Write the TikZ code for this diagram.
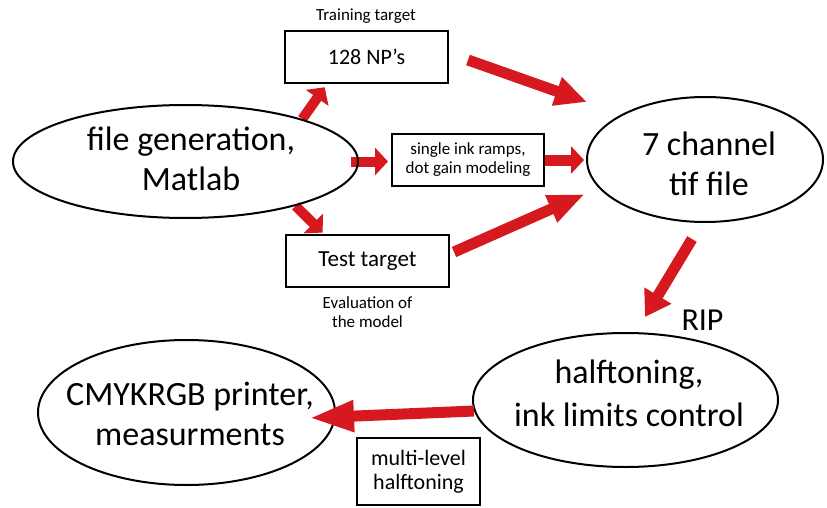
\documentclass[tikz,border=0pt]{standalone}
\usepackage{fontspec}
\setmainfont{Carlito}
\usetikzlibrary{shapes.geometric,arrows.meta,calc}
\pgfdeclarelayer{background}
\pgfsetlayers{background,main}
\definecolor{flowred}{RGB}{213,25,30}
\begin{document}
\begin{tikzpicture}[x=1pt,y=-1pt,
  oval/.style={draw=black,line width=2pt,ellipse,inner sep=0pt},
  box/.style={draw=black,line width=2pt,rectangle,inner sep=0pt,align=center},
  txt/.style={align=center,inner sep=0pt,anchor=base},
  bigtxt/.style={txt,font=\fontsize{34}{40}\selectfont},
  flow/.style={draw=flowred,line width=11pt},
  flowsmall/.style={draw=flowred,line width=10pt,-{Triangle[length=13pt,width=27pt]}},
]
\useasboundingbox (0,0) rectangle (827,508);

% process ellipses
\node[oval,minimum width=345pt,minimum height=113pt] (gen) at (185.5,161.5) {};
\node[oval,minimum width=236pt,minimum height=125pt] (tif) at (705,159.5) {};
\node[oval,minimum width=305pt,minimum height=134pt] (rip) at (625.5,400) {};
\node[oval,minimum width=297pt,minimum height=145pt] (prn) at (186.5,412.5) {};

% ellipse captions, placed by the baseline of their last line
\node[bigtxt] (gentxt) at (191,190) {file generation,\\Matlab};
\node[bigtxt] (tiftxt) at (709,195) {7 channel\\tif file};
\node[bigtxt,font=\fontsize{34}{43}\selectfont] (riptxt) at (629,426) {halftoning,\\ink limits control};
\node[bigtxt] (prntxt) at (190,445) {CMYKRGB printer,\\measurments};
\node[txt,font=\fontsize{32}{36}\selectfont] (riplabel) at (702.5,330) {RIP};

% target boxes
\node[box,minimum width=163pt,minimum height=52pt,font=\fontsize{22}{26}\selectfont] (np) at (366.5,57) {128 NP’s};
\node[box,minimum width=152pt,minimum height=52pt,font=\fontsize{17}{19}\selectfont] (ramp) at (468,160) {single ink ramps,\\dot gain modeling};
\node[box,minimum width=163pt,minimum height=52pt,font=\fontsize{23}{27}\selectfont] (test) at (367.5,261) {Test target};
\node[box,minimum width=123pt,minimum height=67pt,font=\fontsize{22}{24}\selectfont] (multi) at (418.5,471.5) {multi-level\\halftoning};

\node[txt,font=\fontsize{17}{19}\selectfont] (trainlabel) at (366,21) {Training target};
\node[txt,font=\fontsize{17}{19}\selectfont] (evallabel) at (367.5,327) {Evaluation of\\the model};

% flows hidden behind the outlines
\begin{pgfonlayer}{background}
\draw[flowsmall,shorten >=4pt] (gen.20) -- ($(np.south west)+(43,0)$);
\draw[flowsmall,shorten <=-8pt,shorten >=3pt] (gen.east) -- (gen.east -| ramp.west);
\draw[flowsmall,shorten >=2pt] (gen.-22) -- ($(test.north west)+(39,0)$);
\draw[flowsmall,line width=11pt,shorten >=2pt] (ramp.east) -- (ramp.east -| tif.west);
\draw[flow,-{Triangle[length=37pt,width=27pt]}] ($(test.east)+(4,-9)$) -- ($(tif.center)+(-120,34.5)$);
\draw[flow,-{Triangle[length=32pt,width=28pt]}] ($(np.east)+(19,3)$) -- ($(tif.center)+(-118,-57.5)$);
\draw[flow,-{Triangle[length=25pt,width=30pt]}] ($(tif.south)+(-13,16)$) -- ($(rip.north)+(19.5,-15)$);
\end{pgfonlayer}

% output flow drawn over the printer outline
\draw[flow,-{Triangle[length=45pt,width=29pt]}] ($(rip.west)+(2,11)$) -- ($(prn.east)+(-27,5.5)$);
\end{tikzpicture}
\end{document}
